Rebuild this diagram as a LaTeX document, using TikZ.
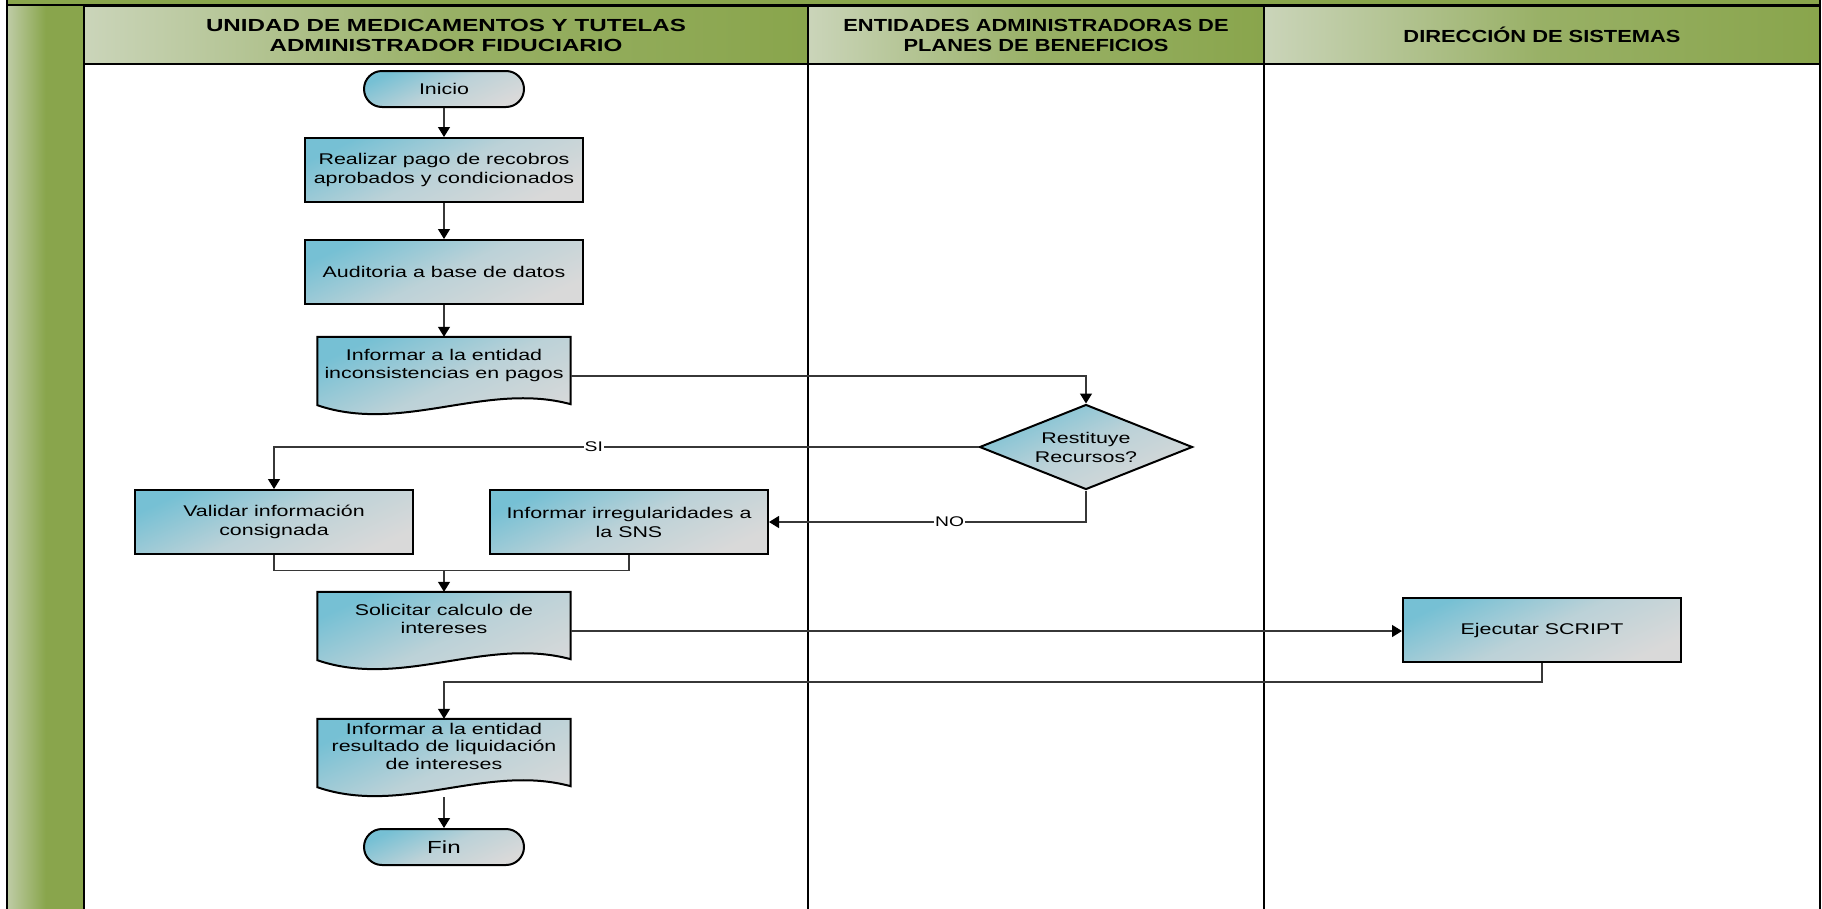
\documentclass[tikz,border=0pt]{standalone}
\usepackage{fontspec}
\setmainfont{Liberation Sans}[FakeStretch=1.38]
\newfontfamily\narrowfont{Liberation Sans}[FakeStretch=1.25]
\usepackage{tikz}
\usetikzlibrary{arrows.meta}
\usetikzlibrary{shapes.geometric}
\usetikzlibrary{calc}
\usetikzlibrary{backgrounds}
\tikzset{>={Triangle[length=10pt,width=12pt,color=black]}}
\definecolor{lanegreen}{RGB}{137,165,76}
\definecolor{lanepale}{RGB}{214,221,205}
\definecolor{boxteal}{RGB}{118,192,212}
\definecolor{boxgray}{RGB}{217,217,217}
\definecolor{flowline}{RGB}{55,55,55}
\newcommand{\boxfont}{\fontsize{15.5}{19}\selectfont}
\newcommand{\docfont}{\fontsize{15.5}{17.5}\selectfont}
\newcommand{\headfont}{\fontsize{17.5}{20}\selectfont\bfseries}
\newcommand{\tagfont}{\fontsize{14}{15}\selectfont}
\tikzset{
  boxshade/.style={top color=boxteal, bottom color=boxgray, middle color=boxgray!70!boxteal, shading angle=25},
  process/.style={boxshade, draw, line width=2pt, minimum width=278pt, minimum height=64pt, align=center, font=\boxfont},
  terminal/.style={boxshade, draw, line width=2pt, minimum width=160pt, minimum height=36pt, rounded corners=18pt, font=\boxfont},
  decision/.style={boxshade, draw, line width=2pt, diamond, aspect=2.5, minimum width=213pt, minimum height=85pt, inner sep=0pt, align=center, font=\boxfont},
  docnode/.style={minimum width=253pt, minimum height=78pt, inner sep=0pt, align=center, font=\docfont, text depth=24pt},
  lanehead/.style={draw, line width=2.5pt, left color=lanepale!85!lanegreen, right color=lanegreen, middle color=lanegreen!80!lanepale, minimum height=58pt, align=center, font=\headfont},
  flow/.style={draw=flowline, line width=1.3pt},
  flowtag/.style={fill=white, inner sep=1pt, font=\tagfont}
}
% document shape drawn behind a docnode
\newcommand{\docshape}[1]{%
  \shade[boxshade, draw, line width=2pt] (#1.north west) -- (#1.north east)
    -- ($(#1.south east)+(0,-11)$)
    .. controls ($(#1.south)+(42,-34)$) and ($(#1.south)+(-42,19)$) .. ($(#1.south west)+(0,-10)$) -- cycle;}

\begin{document}
\begin{tikzpicture}[x=1pt, y=-1pt]
\useasboundingbox (0,0) rectangle (1822,908);
\clip (0,0) rectangle (1822,908);
% swimlanes
\draw[line width=2.5pt, fill=lanegreen] (7,-20) rectangle (1820,5);
\draw[line width=2.5pt, left color=lanepale!70!lanegreen, right color=lanegreen, middle color=lanegreen] (7,5) rectangle (84,930);
\node[lanehead, minimum width=724pt] (headunidad) at (446,35) {UNIDAD DE MEDICAMENTOS Y TUTELAS\\ADMINISTRADOR FIDUCIARIO};
\node[lanehead, minimum width=456pt, font=\narrowfont\headfont] (headentidades) at (1036,35) {ENTIDADES ADMINISTRADORAS DE\\PLANES DE BENEFICIOS};
\node[lanehead, minimum width=556pt, font=\narrowfont\headfont] (headsistemas) at (1542,35) {DIRECCIÓN DE SISTEMAS};
\foreach \lx in {84,808,1264,1820}
  \draw[line width=2.5pt] (\lx,64) -- (\lx,930);

% steps
\node[terminal] (inicio) at (444,89) {Inicio};
\node[process] (pago) at (444,170) {Realizar pago de recobros\\aprobados y condicionados};
\node[process] (auditoria) at (444,272) {Auditoria a base de datos};
\node[docnode] (inconsist) at (444,376) {Informar a la entidad\\inconsistencias en pagos};
\node[decision] (restituye) at (1086,447) {Restituye\\Recursos?};
\node[process] (validar) at (274,522) {Validar información\\consignada};
\node[process] (irregular) at (629,522) {Informar irregularidades a\\la SNS};
\node[docnode] (solicitar) at (444,631) {Solicitar calculo de\\intereses};
\node[process] (script) at (1542,630) {Ejecutar SCRIPT};
\node[docnode] (liquidacion) at (444,758) {Informar a la entidad\\resultado de liquidación\\de intereses};
\node[terminal, font=\fontsize{17.5}{20}\selectfont] (fin) at (444,847) {Fin};
\begin{scope}[on background layer]
  \docshape{inconsist}
  \docshape{solicitar}
  \docshape{liquidacion}
\end{scope}

% flow
\draw[flow,->] (inicio) -- (pago);
\draw[flow,->] (pago) -- (auditoria);
\draw[flow,->] (auditoria) -- (inconsist);
\draw[flow,->] (inconsist.east) -| (restituye.north);
\draw[flow,->] (restituye.west) -| node[pos=.273, flowtag] {SI} (validar.north);
\draw[flow,->] (restituye.south) |- node[pos=.715, flowtag] {NO} (irregular.east);
\coordinate (junta) at ([yshift=21pt]solicitar.north);
\draw[flow] (validar.south) |- (junta);
\draw[flow] (irregular.south) |- (junta);
\draw[flow,->] (junta) -- (solicitar.north);
\draw[flow,->] (solicitar.east) -- (solicitar.east -| script.west);
\draw[flow,->] (script.south) -- ++(0,19) -| (liquidacion.north);
\draw[flow,->] (liquidacion.south) -- (fin.north);
\end{tikzpicture}
\end{document}
